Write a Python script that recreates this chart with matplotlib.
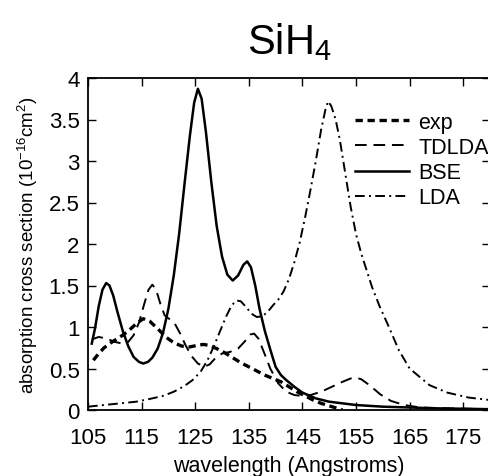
import matplotlib
matplotlib.use("Agg")
import matplotlib.pyplot as plt

plt.rcParams['font.family'] = ['Liberation Sans', 'DejaVu Sans']
plt.rcParams['mathtext.default'] = 'regular'

# experiment
exp_x = [106, 107, 108, 109.5, 111, 112.5, 114, 115.3, 116.5, 118, 119.5, 121, 122.5, 124,
         125.5, 126.5, 127.5, 129, 130.5, 132, 133.5, 135, 136.5, 138, 139.5, 141, 142.5,
         144, 145.5, 147, 148.5, 150, 151.5, 152.5]
exp_y = [0.6, 0.68, 0.75, 0.82, 0.88, 0.95, 1.04, 1.1, 1.07, 0.98, 0.88, 0.81, 0.77, 0.76,
         0.78, 0.79, 0.78, 0.74, 0.69, 0.63, 0.57, 0.52, 0.47, 0.42, 0.38, 0.34, 0.28,
         0.22, 0.17, 0.12, 0.08, 0.05, 0.02, 0.0]

# TDLDA
td_x = [105.7, 107, 108.5, 110, 111.5, 112.5, 113.5, 114.5, 115.5, 116.3, 117, 117.7, 118.5,
        119.3, 120.3, 121.2, 122.2, 123.2, 124.3, 125.5, 126.7, 127.7, 128.7, 130, 131.5,
        133, 134.3, 135.3, 136, 136.8, 137.8, 139, 140.5, 142, 143.5, 145, 146.5, 148.5,
        150.5, 152.5, 154, 155, 156, 157.5, 159.5, 161.5, 164, 167, 172, 180]
td_y = [0.85, 0.88, 0.86, 0.82, 0.8, 0.82, 0.9, 1.05, 1.28, 1.45, 1.51, 1.45, 1.28,
        1.14, 1.09, 1.04, 0.92, 0.78, 0.65, 0.56, 0.52, 0.55, 0.62, 0.68, 0.7,
        0.74, 0.83, 0.91, 0.92, 0.86, 0.7, 0.5, 0.32, 0.22, 0.18, 0.17, 0.18, 0.22,
        0.28, 0.34, 0.38, 0.39, 0.37, 0.3, 0.19, 0.11, 0.06, 0.03, 0.02, 0.01]

# BSE
bse_x = [105.7, 106.3, 107, 107.7, 108.4, 109, 109.7, 110.5, 111.5, 112.5, 113.5, 114.5,
         115.3, 116.2, 117, 118, 119, 120, 121, 122, 123, 124, 124.8, 125.5, 126.2, 127,
         128, 129, 130, 131, 132, 133, 134, 134.7, 135.4, 136.2, 137, 138, 139, 140, 141,
         142, 143.5, 145, 147.5, 150, 155, 160, 170, 180]
bse_y = [0.8, 0.98, 1.25, 1.45, 1.53, 1.5, 1.38, 1.18, 0.95, 0.77, 0.64, 0.58,
         0.56, 0.58, 0.63, 0.74, 0.93, 1.22, 1.62, 2.12, 2.72, 3.3, 3.7, 3.87, 3.75, 3.35,
         2.75, 2.22, 1.85, 1.63, 1.56, 1.62, 1.75, 1.79, 1.72, 1.5, 1.22, 0.95, 0.73, 0.52, 0.42,
         0.36, 0.28, 0.21, 0.14, 0.1, 0.06, 0.04, 0.02, 0.01]

# LDA
lda_x = [105, 108, 111, 114, 117, 119, 121, 123, 124.5, 126, 127.3, 128.5, 129.7, 130.8,
         131.8, 132.7, 133.5, 134.5, 135.5, 136.5, 137.5, 138.5, 139.5, 140.5, 141.5, 142.5,
         143.5, 144.5, 145.5, 146.5, 147.5, 148.5, 149.3, 149.8, 150.4, 151.2, 152, 153, 154,
         155, 156, 157, 158, 159.4, 161, 163, 165, 168.7, 172, 176, 180]
lda_y = [0.04, 0.06, 0.08, 0.1, 0.14, 0.17, 0.22, 0.29, 0.36, 0.46, 0.6, 0.77, 0.96, 1.13,
         1.26, 1.32, 1.31, 1.24, 1.16, 1.12, 1.13, 1.18, 1.26, 1.33, 1.43, 1.58,
         1.78, 2.02, 2.32, 2.65, 3.0, 3.38, 3.62, 3.72, 3.66, 3.5, 3.25, 2.85, 2.45,
         2.12, 1.88, 1.68, 1.48, 1.25, 1.02, 0.72, 0.5, 0.3, 0.21, 0.15, 0.12]

fig = plt.figure(figsize=(4.88, 4.77), dpi=100)
ax = fig.add_axes([88/488, 1-411/477, 402/488, 332/477])

ax.plot(exp_x, exp_y, color='black', lw=2.4, dashes=(2.2, 1.4), label='exp')
ax.plot(td_x, td_y, color='black', lw=1.4, dashes=(6, 3.5), label='TDLDA')
ax.plot(bse_x, bse_y, color='black', lw=1.8, label='BSE')
ax.plot(lda_x, lda_y, color='black', lw=1.4, dashes=(5, 2.2, 1, 2.2), label='LDA')

ax.set_xlim(105, 180)
ax.set_ylim(0, 4)
ax.set_xticks([105, 115, 125, 135, 145, 155, 165, 175])
ax.set_yticks([0, 0.5, 1, 1.5, 2, 2.5, 3, 3.5, 4])
ax.set_yticklabels(['0', '0.5', '1', '1.5', '2', '2.5', '3', '3.5', '4'])
ax.tick_params(direction='in', top=True, right=True, length=6, width=1,
               labelsize=16)
ax.tick_params(axis='x', pad=12)
ax.tick_params(axis='y', pad=6)
for s in ax.spines.values():
    s.set_linewidth(1.3)

ax.set_xlabel('wavelength (Angstroms)', fontsize=15.5, labelpad=5)
ax.set_ylabel('absorption cross section (10$^{-16}$cm$^{2}$)', fontsize=13.5, labelpad=6)

fig.text(289/488, 1-42/477, 'SiH$_4$', ha='center', va='center', fontsize=30)

ax.legend(loc='upper left', bbox_to_anchor=(0.664, 0.899), frameon=False, fontsize=15.5,
          handlelength=2.5, handletextpad=0.45, labelspacing=0.2, borderaxespad=0,
          borderpad=0)

fig.savefig('out.png', dpi=100)
